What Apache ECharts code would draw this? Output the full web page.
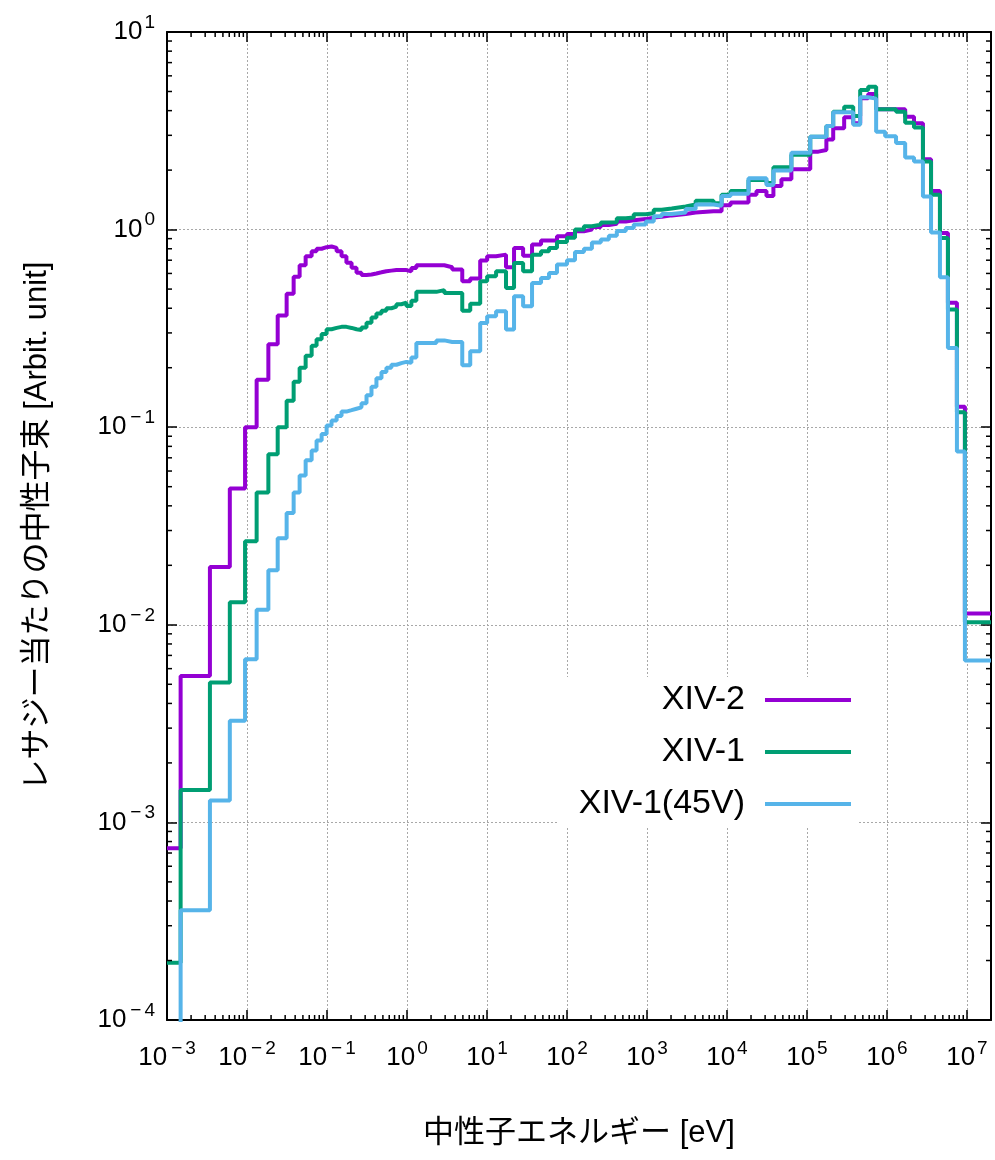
<!DOCTYPE html>
<html>
<head>
<meta charset="utf-8">
<script src="https://cdn.jsdelivr.net/npm/echarts@6/dist/echarts.min.js"></script>
<style>
  html, body { margin: 0; padding: 0; background: #fff; }
  #chart { width: 995px; height: 1160px; }
</style>
</head>
<body>
<div id="chart"></div>
<script>
// bin edges of the energy groups [eV]
const edges = [1.0e-3, 1.48e-3, 3.44e-3, 6.1e-3, 9.46e-3, 1.32e-2, 1.85e-2, 2.42e-2, 3.13e-2, 3.83e-2,
  4.55e-2, 5.41e-2, 6.43e-2, 7.41e-2, 8.57e-2, 9.89e-2, 0.114, 0.132, 0.152, 0.175,
  0.203, 0.234, 0.270, 0.312, 0.360, 0.415, 0.480, 0.553, 0.638, 0.738,
  0.851, 0.984, 1.135, 1.31, 2.33, 2.93, 3.68, 4.91, 6.18, 8.23,
  10.05, 13.0, 17.3, 21.8, 28.3, 36.6, 47.4, 59.7, 75.0, 100,
  126, 163, 205, 265, 334, 420, 544, 684, 966, 1216,
  1530, 2040, 3050, 4060, 6800, 8570, 11100, 18600, 23400, 31200,
  38100, 48000, 63900, 1.10e5, 1.39e5, 1.75e5, 2.13e5, 2.92e5, 3.79e5, 4.63e5,
  5.83e5, 7.33e5, 9.5e5, 1.30e6, 1.69e6, 2.18e6, 2.82e6, 3.56e6, 4.60e6, 5.79e6,
  7.50e6, 9.44e6, 2.0e7];

// flux per lethargy, one value per bin
const xiv2 = [7.4e-4, 5.5e-3, 1.96e-2, 4.9e-2, 0.1, 0.174, 0.263, 0.367, 0.474, 0.577,
  0.66, 0.734, 0.778, 0.80, 0.815, 0.821, 0.808, 0.778, 0.734, 0.679,
  0.641, 0.605, 0.589, 0.593, 0.600, 0.608, 0.616, 0.62, 0.624, 0.624,
  0.624, 0.615, 0.64, 0.66, 0.66, 0.645, 0.628, 0.548, 0.565, 0.697,
  0.733, 0.747, 0.645, 0.807, 0.738, 0.84, 0.88, 0.88, 0.925, 0.95,
  0.98, 1.0, 1.03, 1.055, 1.07, 1.1, 1.115, 1.13, 1.15, 1.16,
  1.18, 1.2, 1.22, 1.24, 1.24, 1.33, 1.37, 1.5, 1.57, 1.48,
  1.66, 1.8, 2.02, 2.48, 2.53, 2.86, 3.26, 3.7, 3.45, 4.62,
  4.85, 4.06, 4.06, 4.06, 3.72, 3.45, 2.27, 1.57, 0.962, 0.426,
  0.127, 0.0114];

const xiv1 = [1.95e-4, 1.46e-3, 5.1e-3, 1.3e-2, 2.65e-2, 4.67e-2, 7.3e-2, 0.1, 0.136, 0.17,
  0.2, 0.23, 0.258, 0.279, 0.296, 0.313, 0.318, 0.322, 0.322, 0.318,
  0.313, 0.31, 0.32, 0.338, 0.359, 0.376, 0.388, 0.40, 0.408, 0.419,
  0.427, 0.41, 0.437, 0.484, 0.494, 0.478, 0.478, 0.389, 0.421, 0.548,
  0.581, 0.615, 0.507, 0.678, 0.615, 0.747, 0.777, 0.808, 0.866, 0.91,
  1.0, 1.04, 1.06, 1.085, 1.09, 1.14, 1.15, 1.195, 1.21, 1.26,
  1.28, 1.31, 1.34, 1.4, 1.36, 1.5, 1.57, 1.78, 1.78, 1.72,
  2.07, 2.07, 2.39, 2.95, 2.95, 3.34, 3.95, 4.19, 3.76, 5.08,
  5.28, 4.06, 4.06, 3.95, 3.47, 3.29, 2.21, 1.5, 0.908, 0.394,
  0.119, 0.0103];

const xiv1_45v = [5e-5, 3.59e-4, 1.29e-3, 3.27e-3, 6.7e-3, 1.19e-2, 1.89e-2, 2.74e-2, 3.68e-2, 4.67e-2,
  5.7e-2, 6.8e-2, 0.0762, 0.0857, 0.0925, 0.102, 0.108, 0.114, 0.12, 0.122,
  0.124, 0.126, 0.132, 0.145, 0.16, 0.177, 0.19, 0.2, 0.207, 0.211,
  0.214, 0.212, 0.225, 0.267, 0.275, 0.27, 0.27, 0.206, 0.242, 0.337,
  0.364, 0.386, 0.312, 0.46, 0.409, 0.537, 0.569, 0.603, 0.665, 0.70,
  0.77, 0.80, 0.86, 0.89, 0.93, 0.985, 1.02, 1.06, 1.10, 1.17,
  1.2, 1.22, 1.27, 1.34, 1.32, 1.48, 1.52, 1.82, 1.82, 1.68,
  1.99, 1.99, 2.45, 2.95, 2.95, 3.34, 3.93, 3.93, 3.39, 4.68,
  4.6, 3.13, 2.97, 2.74, 2.32, 2.21, 1.47, 0.968, 0.574, 0.252,
  0.0754, 0.0066];

const seriesNames = ['XIV-2', 'XIV-1', 'XIV-1(45V)'];
const seriesColors = ['#9400d3', '#009e73', '#56b4e9'];

// minor tick positions (multipliers inside each decade)
const minorMult = [2, 3, 4, 5, 6, 7, 8, 9];
const xDecades = [-3, -2, -1, 0, 1, 2, 3, 4, 5, 6, 7];
const yDecades = [-4, -3, -2, -1, 0];

const FONT = '"Liberation Sans", "Noto Sans CJK JP", sans-serif';

function histo(vals) {
  const pts = vals.map((v, i) => [edges[i], v]);
  pts.push([edges[edges.length - 1], vals[vals.length - 1]]);
  return pts;
}

function powLabel(value) {
  const lg = Math.log10(value);
  const e = Math.round(lg);
  if (Math.abs(lg - e) > 1e-6) return '';
  if (e < 0) return '{b|10}{m|\u2212}{s|' + (-e) + '}';
  return '{b|10}{p|' + e + '}';
}

const richLab = {
  b: { fontSize: 26, fontFamily: FONT, color: '#000', lineHeight: 38 },
  p: { fontSize: 19, fontFamily: FONT, color: '#000', verticalAlign: 'top', lineHeight: 19, padding: [0, 0, 0, 2] },
  m: { fontSize: 19, fontFamily: FONT, color: '#000', verticalAlign: 'top', lineHeight: 19, padding: [0, 3, 0, 4] },
  s: { fontSize: 19, fontFamily: FONT, color: '#000', verticalAlign: 'top', lineHeight: 19 }
};

const xMinor = [];
xDecades.forEach(d => minorMult.forEach(m => {
  const v = m * Math.pow(10, d);
  if (v < 2e7) xMinor.push([v, 1]);
}));
const yMinor = [];
yDecades.forEach(d => minorMult.forEach(m => yMinor.push([1e-3, m * Math.pow(10, d)])));

const chart = echarts.init(document.getElementById('chart'), null, { renderer: 'canvas' });

const axisLineStyle = { color: '#000', width: 2 };
const tickStyle = { color: '#000', width: 1.5 };
const gridStyle = { color: '#a8a8a8', type: [2, 2], width: 1 };

const option = {
  animation: false,
  backgroundColor: '#fff',
  grid: { left: 167, right: 4, top: 32, bottom: 140, containLabel: false },
  xAxis: [{
    type: 'log', logBase: 10, min: 1e-3, max: 2e7, interval: 1,
    position: 'bottom',
    name: '中性子エネルギー [eV]', nameLocation: 'middle', nameGap: 98,
    nameTextStyle: { fontSize: 31, fontFamily: FONT, color: '#000' },
    axisLine: { show: true, lineStyle: axisLineStyle },
    axisTick: { show: true, inside: true, length: 10, lineStyle: tickStyle },
    axisLabel: { show: true, margin: 19, formatter: powLabel, rich: richLab, showMaxLabel: true },
    splitLine: { show: true, lineStyle: gridStyle }
  }, {
    type: 'log', logBase: 10, min: 1e-3, max: 2e7, interval: 1,
    position: 'top',
    axisLine: { show: true, lineStyle: axisLineStyle },
    axisTick: { show: true, inside: true, length: 10, lineStyle: tickStyle },
    axisLabel: { show: false },
    splitLine: { show: false }
  }],
  yAxis: [{
    type: 'log', logBase: 10, min: 1e-4, max: 10, interval: 1,
    position: 'left',
    name: 'レサジー当たりの中性子束 [Arbit. unit]', nameLocation: 'middle', nameGap: 114,
    nameTextStyle: { fontSize: 31, fontFamily: FONT, color: '#000' },
    axisLine: { show: true, lineStyle: axisLineStyle },
    axisTick: { show: true, inside: true, length: 10, lineStyle: tickStyle },
    axisLabel: { show: true, margin: 12, formatter: powLabel, rich: richLab, align: 'right' },
    splitLine: { show: true, lineStyle: gridStyle }
  }, {
    type: 'log', logBase: 10, min: 1e-4, max: 10, interval: 1,
    position: 'right',
    axisLine: { show: true, lineStyle: axisLineStyle },
    axisTick: { show: true, inside: true, length: 10, lineStyle: tickStyle },
    axisLabel: { show: false },
    splitLine: { show: false }
  }],
  legend: {
    data: seriesNames,
    orient: 'vertical',
    align: 'right',
    right: 136,
    top: 677,
    itemWidth: 86,
    itemHeight: 4,
    itemGap: 18,
    icon: 'rect',
    padding: [6, 8, 6, 20],
    backgroundColor: '#fff',
    textStyle: { fontSize: 34, fontFamily: FONT, color: '#000', padding: [0, 15, 0, 0] }
  },
  series: [
    ...seriesNames.map((name, k) => ({
      name: name,
      type: 'line',
      step: 'end',
      data: histo([xiv2, xiv1, xiv1_45v][k]),
      showSymbol: false,
      symbol: 'none',
      clip: true,
      lineStyle: { color: seriesColors[k], width: 4 },
      itemStyle: { color: seriesColors[k] },
      z: 3 + k
    })),
    {
      name: 'xminor',
      type: 'custom',
      silent: true,
      data: xMinor,
      z: 10,
      renderItem: function (params, api) {
        const x = api.value(0);
        const b = api.coord([x, 1e-4]);
        const t = api.coord([x, 10]);
        const st = { stroke: '#000', lineWidth: 1.5 };
        return {
          type: 'group',
          children: [
            { type: 'line', shape: { x1: b[0], y1: b[1], x2: b[0], y2: b[1] - 5 }, style: st },
            { type: 'line', shape: { x1: t[0], y1: t[1], x2: t[0], y2: t[1] + 5 }, style: st }
          ]
        };
      }
    },
    {
      name: 'yminor',
      type: 'custom',
      silent: true,
      data: yMinor,
      z: 10,
      renderItem: function (params, api) {
        const y = api.value(1);
        const l = api.coord([1e-3, y]);
        const r = api.coord([2e7, y]);
        const st = { stroke: '#000', lineWidth: 1.5 };
        return {
          type: 'group',
          children: [
            { type: 'line', shape: { x1: l[0], y1: l[1], x2: l[0] + 5, y2: l[1] }, style: st },
            { type: 'line', shape: { x1: r[0], y1: r[1], x2: r[0] - 5, y2: r[1] }, style: st }
          ]
        };
      }
    }
  ]
};

chart.setOption(option);
</script>
</body>
</html>
